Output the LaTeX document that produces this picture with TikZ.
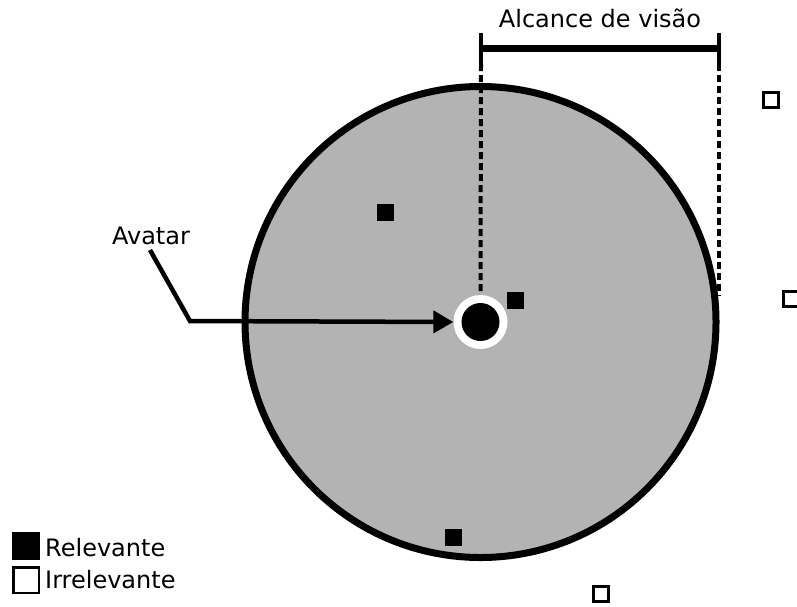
\documentclass[tikz,border=0pt]{standalone}
\usepackage{fontspec}
\setmainfont{DejaVu Sans}
\usetikzlibrary{arrows.meta}
\definecolor{rangegray}{HTML}{B3B3B3}
\begin{document}
\begin{tikzpicture}[x=1pt,y=-1pt,
  lbl/.style={font=\fontsize{24}{28}\selectfont, inner sep=0pt},
  relsq/.style={draw=none, fill=black, minimum size=17pt, inner sep=0pt},
  irrsq/.style={draw=black, fill=white, line width=3pt, minimum size=15pt, inner sep=0pt},
  dashline/.style={line width=4pt, dash pattern=on 7pt off 4pt},
  tick/.style={line width=4pt}
]
\useasboundingbox (0,0) rectangle (797,606);
% vision range
\node[circle, draw=black, fill=rangegray, line width=7pt, minimum size=471pt, inner sep=0pt] (range) at (480.5,322) {};
% avatar
\node[circle, fill=white, minimum size=54pt, inner sep=0pt] (ring) at (480.5,322) {};
\node[circle, fill=black, minimum size=38pt, inner sep=0pt] (avatar) at (480.5,322) {};
% objects
\node[relsq] (r1) at (385,212) {};
\node[relsq] (r2) at (515.5,300.5) {};
\node[relsq] (r3) at (453,537) {};
\node[irrsq] (i1) at (771,100) {};
\node[irrsq] (i2) at (791,299) {};
\node[irrsq] (i3) at (601,594) {};
% range bar
\coordinate (lt) at (481,33);
\coordinate (lb) at (481,64);
\coordinate (rt) at (719,33);
\coordinate (rb) at (719,64);
\coordinate (lm) at (481,48);
\coordinate (rm) at (719,48);
\coordinate (rend) at (719,296);
\draw[tick] (lt) -- (lb);
\draw[tick] (rt) -- (rb);
\draw[line width=7pt] (lm) -- (rm);
\draw[dashline] (lb) -- (ring.north);
\draw[dashline] (rb) -- (rend);
\node[lbl, anchor=base] (title) at (600,27) {Alcance de visão};
% avatar label and arrow
\node[lbl, anchor=base] (avlabel) at (151,244) {Avatar};
\coordinate (bend) at (190,321);
\coordinate (start) at (150,250);
\draw[line width=4.5pt, -{Triangle[length=20pt,width=22pt]}] (start) -- (bend) -- (ring.west);
% legend
\node[fill=black, minimum size=28pt, inner sep=0pt] (legrel) at (26,546) {};
\node[draw=black, fill=white, line width=2.5pt, minimum size=25.5pt, inner sep=0pt] (legirr) at (26,580) {};
\node[lbl, anchor=base west] (relt) at (45,556) {Relevante};
\node[lbl, anchor=base west] (irrt) at (45,588) {Irrelevante};
\end{tikzpicture}
\end{document}
